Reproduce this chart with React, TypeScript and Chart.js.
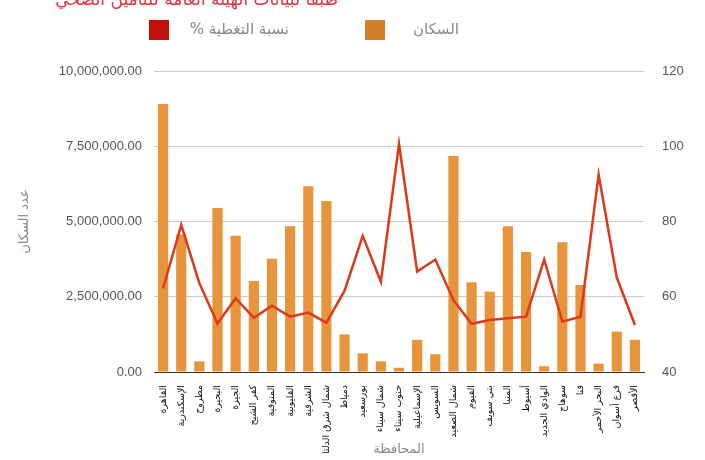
import React, { useEffect, useRef } from "react";
import { Chart, registerables } from "chart.js";

Chart.register(...registerables);

// Governorates along the category axis
const governorates = [
  "القاهرة",
  "الإسكندرية",
  "مطروح",
  "البحيرة",
  "الجيزة",
  "كفر الشيخ",
  "المنوفية",
  "القليوبية",
  "الشرقية",
  "شمال شرق الدلتا",
  "دمياط",
  "بورسعيد",
  "شمال سيناء",
  "جنوب سيناء",
  "الإسماعيلية",
  "السويس",
  "شمال الصعيد",
  "الفيوم",
  "بني سويف",
  "المنيا",
  "أسيوط",
  "الوادي الجديد",
  "سوهاج",
  "قنا",
  "البحر الأحمر",
  "فرع أسوان",
  "الأقصر",
];

// Population per governorate (left axis)
const population = [
  8900000, 4580000, 355000, 5450000, 4530000, 3020000, 3760000, 4840000,
  6170000, 5680000, 1250000, 620000, 355000, 140000, 1070000, 590000,
  7180000, 2980000, 2670000, 4840000, 3990000, 190000, 4310000, 2890000,
  280000, 1340000, 1070000,
];

// Coverage percentage per governorate (right axis)
const coverage = [
  62.2, 79.1, 63.6, 52.9, 59.6, 54.4, 57.6, 54.7, 55.8, 53.1, 61.6, 76.2,
  64.0, 100.6, 66.7, 69.9, 59.1, 52.8, 53.8, 54.3, 54.7, 69.9, 53.4, 54.7,
  92.4, 65.1, 52.5,
];

const titleText = "طبقا لبيانات الهيئة العامة للتأمين الصحي";
const populationLabel = "السكان";
const coverageLabel = "نسبة التغطية %";
const leftAxisTitle = "عدد السكان";
const bottomAxisTitle = "المحافظة";

const barColor = "#e8943a";
const barSwatch = "#d47f2a";
const lineColor = "#dc3a1c";
const lineSwatch = "#c0100a";

const arabicFont = "'DejaVu Sans', 'Noto Sans', sans-serif";
const numberFont = "'Liberation Sans', Arial, sans-serif";

export default function App() {
  const canvasRef = useRef<HTMLCanvasElement>(null);

  useEffect(() => {
    const canvas = canvasRef.current;
    if (!canvas) return;
    const chart = new Chart(canvas, {
      type: "bar",
      data: {
        labels: governorates,
        datasets: [
          {
            type: "line",
            label: coverageLabel,
            data: coverage,
            yAxisID: "y1",
            borderColor: lineColor,
            backgroundColor: lineColor,
            borderWidth: 2.5,
            pointRadius: 0,
            tension: 0,
            order: 0,
          } as any,
          {
            type: "bar",
            label: populationLabel,
            data: population,
            yAxisID: "y",
            backgroundColor: barColor,
            barPercentage: 0.56,
            categoryPercentage: 1,
            order: 1,
          },
        ],
      },
      options: {
        responsive: false,
        animation: false,
        devicePixelRatio: 1,
        layout: { padding: { top: 71, left: 0, right: 0, bottom: 0 } },
        plugins: {
          legend: { display: false },
          tooltip: { enabled: false },
          title: { display: false },
        },
        scales: {
          x: {
            grid: { display: false },
            border: { display: true, color: "#333" },
            ticks: {
              autoSkip: false,
              minRotation: 90,
              maxRotation: 90,
              padding: 5,
              color: "#111",
              font: { family: arabicFont, size: 9.5 },
            },
            title: {
              display: true,
              text: bottomAxisTitle,
              color: "#888",
              font: { family: arabicFont, size: 13 },
              padding: { top: 0, bottom: 3 },
            },
            afterFit: (s: any) => {
              s.height = 88;
            },
          },
          y: {
            position: "left",
            min: 0,
            max: 10000000,
            border: { display: false },
            grid: {
              drawTicks: false,
              color: (ctx: any) => (ctx.tick && ctx.tick.value === 0 ? "#333" : "#cccccc"),
            },
            ticks: {
              stepSize: 2500000,
              padding: 12,
              color: "#555",
              font: { family: numberFont, size: 13 },
              callback: (v: any) =>
                Number(v).toLocaleString("en-US", {
                  minimumFractionDigits: 2,
                  maximumFractionDigits: 2,
                }),
            },
            title: {
              display: true,
              text: leftAxisTitle,
              color: "#888",
              font: { family: arabicFont, size: 13 },
              padding: { top: 17, bottom: 0 },
            },
            afterFit: (s: any) => {
              s.width = 154;
            },
          },
          y1: {
            position: "right",
            min: 40,
            max: 120,
            border: { display: false },
            grid: { display: false, drawTicks: false },
            ticks: {
              stepSize: 20,
              padding: 18,
              color: "#555",
              font: { family: numberFont, size: 13 },
            },
            afterFit: (s: any) => {
              s.width = 61;
            },
          },
        },
      },
    });
    return () => chart.destroy();
  }, []);

  const legendText: React.CSSProperties = {
    position: "absolute",
    top: 19,
    height: 20,
    lineHeight: "20px",
    fontFamily: arabicFont,
    fontSize: 15,
    color: "#888",
    whiteSpace: "nowrap",
    direction: "rtl",
    textAlign: "right",
  };

  return (
    <div
      style={{
        position: "fixed",
        left: 0,
        top: 0,
        width: 705,
        height: 460,
        background: "#fff",
        overflow: "hidden",
      }}
    >
      <canvas ref={canvasRef} width={705} height={460} style={{ position: "absolute", left: 0, top: 0 }} />
      <div
        style={{
          position: "absolute",
          left: 20,
          width: 318,
          top: -12,
          fontFamily: arabicFont,
          fontSize: 17,
          lineHeight: "22px",
          color: "#e5323c",
          direction: "rtl",
          textAlign: "right",
          whiteSpace: "nowrap",
        }}
      >
        {titleText}
      </div>
      <div style={{ position: "absolute", left: 149, top: 20, width: 20, height: 20, background: lineSwatch }} />
      <div style={{ ...legendText, left: 150, width: 139 }}>{coverageLabel}</div>
      <div style={{ position: "absolute", left: 365, top: 20, width: 20, height: 20, background: barSwatch }} />
      <div style={{ ...legendText, left: 390, width: 69 }}>{populationLabel}</div>
    </div>
  );
}
